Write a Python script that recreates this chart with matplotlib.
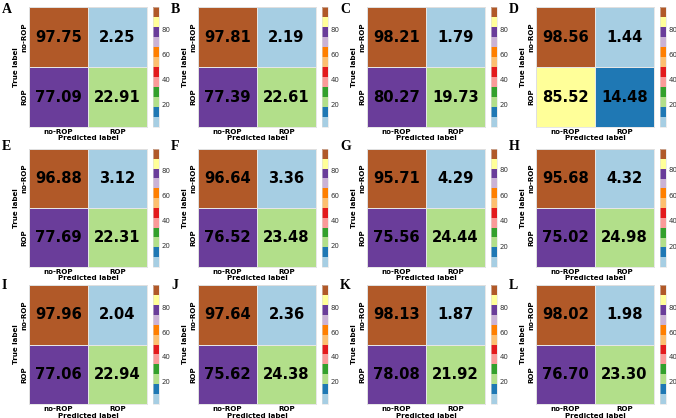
import numpy as np
import matplotlib
matplotlib.use("Agg")
import matplotlib.pyplot as plt

panels = ["A", "B", "C", "D", "E", "F", "G", "H", "I", "J", "K", "L"]
tn = [97.75, 97.81, 98.21, 98.56, 96.88, 96.64, 95.71, 95.68, 97.96, 97.64, 98.13, 98.02]
fp = [2.25, 2.19, 1.79, 1.44, 3.12, 3.36, 4.29, 4.32, 2.04, 2.36, 1.87, 1.98]
fn = [77.09, 77.39, 80.27, 85.52, 77.69, 76.52, 75.56, 75.02, 77.06, 75.62, 78.08, 76.70]
tp = [22.91, 22.61, 19.73, 14.48, 22.31, 23.48, 24.44, 24.98, 22.94, 24.38, 21.92, 23.30]
class_labels = ["no-ROP", "ROP"]
cbar_ticks = [20, 40, 60, 80]

W, H = 676, 418
fig = plt.figure(figsize=(W / 100, H / 100), dpi=100)

col_left = [29, 198, 367, 536]
row_top = [7, 149, 285]
row_h = [120, 118, 119]
hm_w = 118
letter_off = [6, 1, 4]
cmap = plt.get_cmap("Paired")

def fx(px):
    return px / W

def fy(py):
    return 1 - py / H

for i, name in enumerate(panels):
    r, c = divmod(i, 4)
    left = col_left[c]
    top = row_top[r]
    h = row_h[r]
    ax = fig.add_axes([fx(left), fy(top + h), hm_w / W, h / H])
    data = np.array([[tn[i], fp[i]], [fn[i], tp[i]]])
    vmin, vmax = data.min(), data.max()
    mesh = ax.pcolormesh(data, cmap=cmap, vmin=vmin, vmax=vmax,
                         edgecolors="#e6e6e6", linewidth=0.4)
    ax.set_xlim(0, 2)
    ax.set_ylim(2, 0)
    for (yy, xx), v in np.ndenumerate(data):
        ax.text(xx + 0.5, yy + 0.5, f"{v:.2f}", ha="center", va="center",
                fontsize=10.6, fontweight="bold", color="black")
    ax.set_xticks([0.5, 1.5])
    ax.set_yticks([0.5, 1.5])
    ax.set_xticklabels(class_labels, fontsize=5.1, fontweight="bold")
    ax.set_yticklabels(class_labels, fontsize=5.1, fontweight="bold",
                       rotation=90, va="center")
    ax.tick_params(length=0, pad=1.5)
    ax.set_xlabel("Predicted label", fontsize=5.1, fontweight="bold", labelpad=0.3)
    ax.set_ylabel("True label", fontsize=5.1, fontweight="bold", labelpad=1.5)
    for s in ax.spines.values():
        s.set_color("#dddddd")
        s.set_linewidth(0.5)

    cax = fig.add_axes([fx(left + hm_w + 6), fy(top + h), 5.5 / W, h / H])
    cb = fig.colorbar(mesh, cax=cax)
    cb.set_ticks(cbar_ticks)
    cb.ax.tick_params(labelsize=5.0, length=0, pad=2,
                      colors="#333333")
    cb.outline.set_linewidth(0.4)
    cb.outline.set_edgecolor("#dddddd")

    fig.text(fx(left - 27), fy(top + letter_off[r]), name,
             fontsize=10, fontweight="bold", family="Liberation Serif",
             ha="left", va="baseline")

fig.savefig("out.png", dpi=100)
